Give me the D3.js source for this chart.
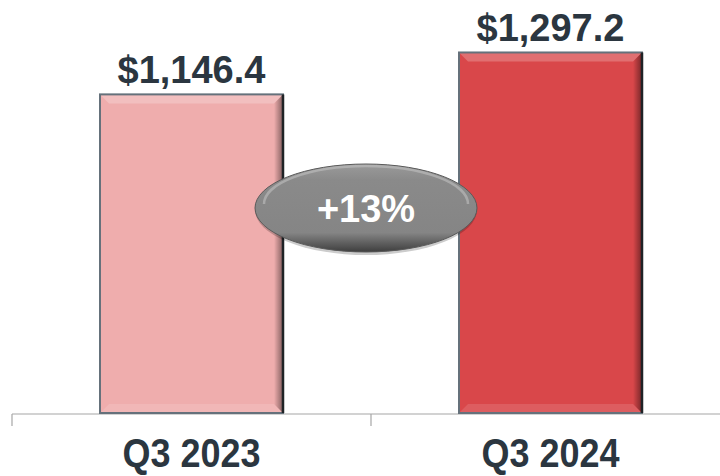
<!DOCTYPE html>
<html>
<head>
<meta charset="utf-8">
<script src="https://cdn.jsdelivr.net/npm/d3@7"></script>
<style>
  body { margin: 0; background: #fff; }
  svg { display: block; }
</style>
</head>
<body>
<div id="chart"></div>
<script>
const categories = ["Q3 2023", "Q3 2024"];
const values = [1146.4, 1297.2];
const valueLabels = ["$1,146.4", "$1,297.2"];
const growthLabel = "+13%";

const width = 720, height = 476;
const baseY = 413;

const svg = d3.select("#chart").append("svg")
    .attr("width", width)
    .attr("height", height);

const x = d3.scaleBand()
    .domain(categories)
    .range([12, 730])
    .padding(0);

const y = d3.scaleLinear()
    .domain([0, 1486])
    .range([baseY, 0]);

const barW = 183;
const fills = ["#efadad", "#d9474a"];

const defs = svg.append("defs");
// right side shadow
const shade = defs.append("linearGradient").attr("id", "shade")
    .attr("x1", 0).attr("x2", 1).attr("y1", 0).attr("y2", 0);
shade.append("stop").attr("offset", "0%").attr("stop-color", "#000").attr("stop-opacity", 0);
shade.append("stop").attr("offset", "100%").attr("stop-color", "#000").attr("stop-opacity", 0.45);

const oval = defs.append("linearGradient").attr("id", "oval")
    .attr("x1", 0).attr("x2", 0).attr("y1", 0).attr("y2", 1);
oval.append("stop").attr("offset", "0%").attr("stop-color", "#9a9a9a");
oval.append("stop").attr("offset", "18%").attr("stop-color", "#8a8a8a");
oval.append("stop").attr("offset", "78%").attr("stop-color", "#858585");
oval.append("stop").attr("offset", "100%").attr("stop-color", "#3e3e3e");

// axis line and ticks
svg.append("line")
    .attr("x1", 12).attr("x2", width)
    .attr("y1", baseY + 1).attr("y2", baseY + 1)
    .attr("stroke", "#a6a6a6").attr("stroke-width", 1.2);

svg.selectAll(".tick")
    .data(categories)
    .enter().append("line")
    .attr("x1", d => x(d)).attr("x2", d => x(d))
    .attr("y1", baseY + 1).attr("y2", baseY + 13)
    .attr("stroke", "#a6a6a6").attr("stroke-width", 1.2);

// bars
const bars = svg.selectAll(".bar")
    .data(values)
    .enter().append("g")
    .attr("transform", (d, i) => `translate(${x(categories[i]) + (x.bandwidth() - barW) / 2},0)`);

bars.append("rect")
    .attr("x", 0)
    .attr("y", d => y(d))
    .attr("width", barW)
    .attr("height", d => baseY - y(d))
    .attr("fill", (d, i) => fills[i]);

const bev = 9;
// top bevel highlight
bars.append("path")
    .attr("d", d => {
        const t = y(d);
        return `M0,${t} L${barW},${t} L${barW - bev},${t + bev} L${bev},${t + bev} Z`;
    })
    .attr("fill", "#fff").attr("opacity", 0.22);
// bottom bevel
bars.append("path")
    .attr("d", () => `M0,${baseY} L${barW},${baseY} L${barW - bev},${baseY - bev} L${bev},${baseY - bev} Z`)
    .attr("fill", "#fff").attr("opacity", 0.12);
// right shadow
bars.append("path")
    .attr("d", d => {
        const t = y(d);
        return `M${barW},${t} L${barW},${baseY} L${barW - bev},${baseY - bev} L${barW - bev},${t + bev} Z`;
    })
    .attr("fill", "url(#shade)");
// border
bars.append("rect")
    .attr("x", 0)
    .attr("y", d => y(d))
    .attr("width", barW)
    .attr("height", d => baseY - y(d))
    .attr("fill", "none")
    .attr("stroke", "#65717b")
    .attr("stroke-width", 2);
bars.append("line")
    .attr("x1", barW).attr("x2", barW)
    .attr("y1", d => y(d)).attr("y2", baseY)
    .attr("stroke", "#1f2326").attr("stroke-width", 2.5);

// value labels
bars.append("text")
    .attr("x", barW / 2)
    .attr("y", d => y(d) - 11)
    .attr("text-anchor", "middle")
    .style("font-family", "'Liberation Sans', Arial, sans-serif")
    .style("font-weight", "bold")
    .style("font-size", "38px")
    .style("fill", "#2b3640")
    .text((d, i) => valueLabels[i]);

// category labels (slightly condensed)
svg.selectAll(".cat")
    .data(categories)
    .enter().append("text")
    .attr("transform", d => `translate(${x(d) + x.bandwidth() / 2},467) scale(0.9,1)`)
    .attr("text-anchor", "middle")
    .style("font-family", "'Liberation Sans', Arial, sans-serif")
    .style("font-weight", "bold")
    .style("font-size", "40px")
    .style("fill", "#2b3640")
    .text(d => d);

// growth oval
const cx = 366, cy = 208;
svg.append("ellipse")
    .attr("cx", cx).attr("cy", cy + 2)
    .attr("rx", 111).attr("ry", 45)
    .attr("fill", "#000").attr("opacity", 0.2);
svg.append("ellipse")
    .attr("cx", cx).attr("cy", cy)
    .attr("rx", 111).attr("ry", 44)
    .attr("fill", "url(#oval)")
    .attr("stroke", "#5a5a5a").attr("stroke-width", 1);
svg.append("path")
    .attr("d", `M${cx - 102},${cy - 4} A102,38 0 0 1 ${cx + 102},${cy - 4}`)
    .attr("fill", "none")
    .attr("stroke", "#c4c4c4").attr("stroke-width", 2.5).attr("opacity", 0.55);
svg.append("text")
    .attr("x", cx).attr("y", cy + 14)
    .attr("text-anchor", "middle")
    .style("font-family", "'Liberation Sans', Arial, sans-serif")
    .style("font-weight", "bold")
    .style("font-size", "38px")
    .style("fill", "#fff")
    .text(growthLabel);
</script>
</body>
</html>
